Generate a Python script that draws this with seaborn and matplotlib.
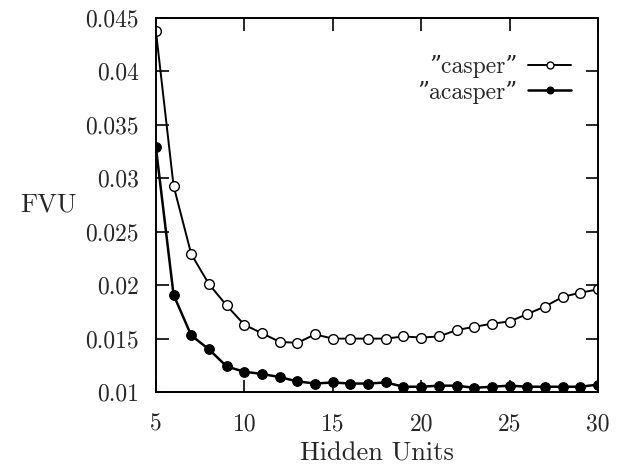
import matplotlib
matplotlib.use("Agg")
import matplotlib.pyplot as plt
import seaborn as sns
import pandas as pd

# values
hidden_units = list(range(5, 31))
casper = [0.0438, 0.0293, 0.0229, 0.0201, 0.0181, 0.0163, 0.0155, 0.0147, 0.0146,
          0.0154, 0.0150, 0.0150, 0.0150, 0.0150, 0.0152, 0.0151, 0.0152, 0.0158,
          0.0161, 0.0164, 0.0166, 0.0173, 0.0180, 0.0189, 0.0193, 0.0196]
acasper = [0.0329, 0.0191, 0.0153, 0.0140, 0.0124, 0.0119, 0.0117, 0.0114, 0.0110,
           0.0108, 0.0109, 0.0108, 0.0108, 0.0109, 0.0105, 0.0105, 0.0106, 0.0106,
           0.0104, 0.0105, 0.0106, 0.0105, 0.0105, 0.0105, 0.0105, 0.0107]
xticks = [5, 10, 15, 20, 25, 30]
yticks = [0.01, 0.015, 0.02, 0.025, 0.03, 0.035, 0.04, 0.045]
ytick_labels = ["0.01", "0.015", "0.02", "0.025", "0.03", "0.035", "0.04", "0.045"]

df = pd.DataFrame({"units": hidden_units, "casper": casper, "acasper": acasper})

sns.set_style("ticks")
plt.rcParams['font.family'] = ['cmr10', 'DejaVu Serif']
plt.rcParams['axes.formatter.use_mathtext'] = True

fig = plt.figure(figsize=(6.21, 4.69), dpi=100)
ax = fig.add_axes([0.251, 0.164, 0.712, 0.798])

sns.lineplot(data=df, x="units", y="casper", ax=ax, color="black", lw=1.4,
             marker="o", markersize=7, markerfacecolor="white",
             markeredgecolor="black", markeredgewidth=1.0,
             label="\u201dcasper\u201d")
sns.lineplot(data=df, x="units", y="acasper", ax=ax, color="black", lw=1.8,
             marker="o", markersize=7, markerfacecolor="black",
             markeredgecolor="black", label="\u201dacasper\u201d")

ax.set_xlim(5, 30)
ax.set_ylim(0.01, 0.045)
ax.set_xticks(xticks)
ax.set_xticklabels([str(t) for t in xticks])
ax.set_yticks(yticks)
ax.set_yticklabels(ytick_labels)
ax.tick_params(direction="in", length=9, width=1.4, top=True, right=True,
               labelsize=17)
ax.tick_params(axis="y", pad=12)
ax.tick_params(axis="x", pad=15)
for s in ax.spines.values():
    s.set_linewidth(1.4)
    s.set_color("black")

ax.set_xlabel("Hidden Units", fontsize=19, labelpad=5)
ax.set_ylabel("FVU", fontsize=19, rotation=0, va="center")
ax.yaxis.set_label_coords(-0.243, 0.50)

leg = ax.legend(loc="upper right", frameon=False, markerfirst=False,
                fontsize=17, handlelength=1.8, borderaxespad=0.0,
                bbox_to_anchor=(0.96, 0.925), labelspacing=0.1,
                handletextpad=0.45)
for h in leg.legend_handles:
    h.set_markersize(5)

fig.savefig("out.png", dpi=100)
